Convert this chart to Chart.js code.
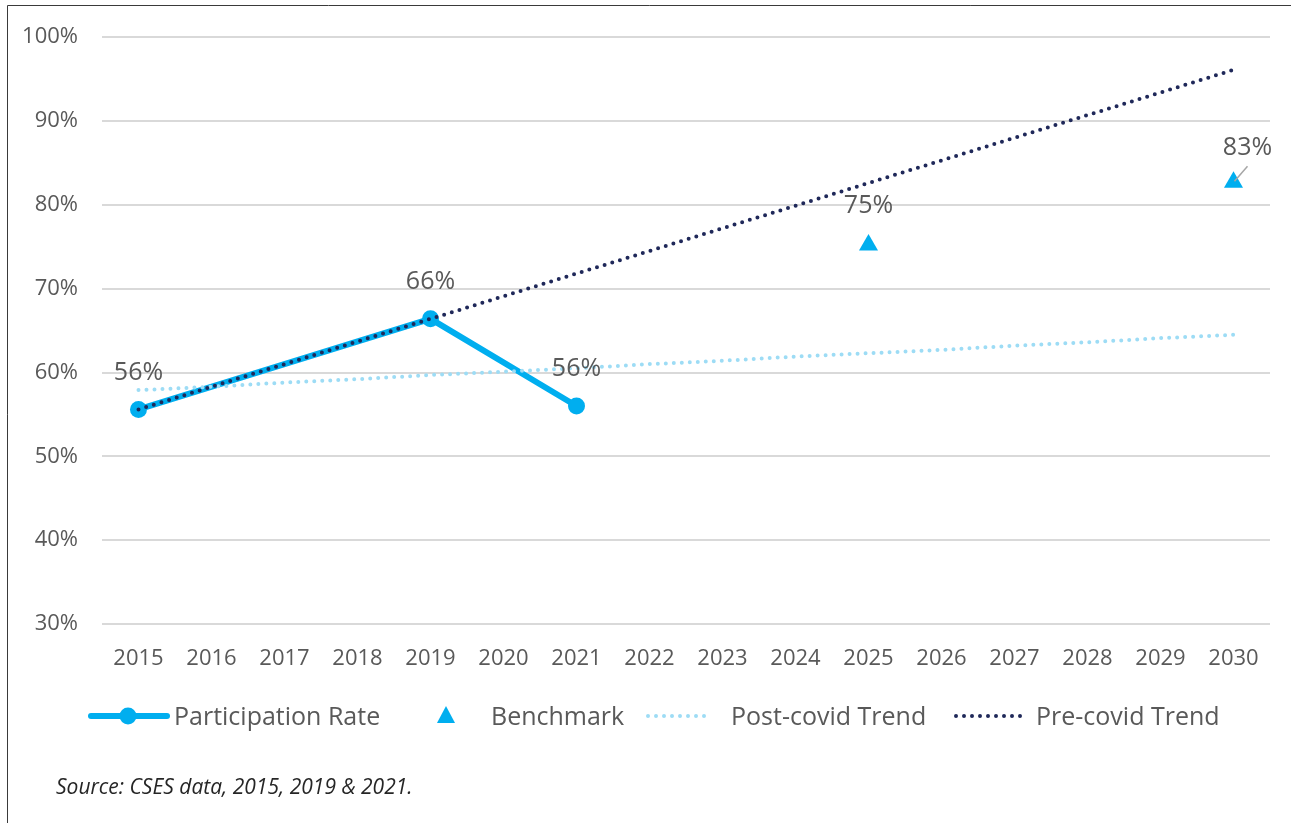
<!DOCTYPE html>
<html>
<head>
<meta charset="utf-8">
<script src="https://cdn.jsdelivr.net/npm/chart.js@4.4.1/dist/chart.umd.min.js"></script>
<style>
  html, body { margin: 0; padding: 0; background: #fff; }
  canvas { display: block; }
</style>
</head>
<body>
<canvas id="chart" width="1291" height="823"></canvas>
<script>
const years = ['2015', '2016', '2017', '2018', '2019', '2020', '2021', '2022',
               '2023', '2024', '2025', '2026', '2027', '2028', '2029', '2030'];
const participationRate = [55.6, null, null, null, 66.4, null, 56.0, null,
                           null, null, null, null, null, null, null, null];
const benchmark = [null, null, null, null, null, null, null, null,
                   null, null, 75.2, null, null, null, null, 82.7];
const postCovidTrend = [57.9, 58.3, 58.8, 59.2, 59.7, 60.1, 60.5, 61.0,
                        61.4, 61.9, 62.3, 62.7, 63.2, 63.6, 64.1, 64.5];
const preCovidTrend = [55.6, 58.3, 61.0, 63.7, 66.4, 69.1, 71.8, 74.5,
                       77.2, 79.9, 82.6, 85.3, 88.0, 90.7, 93.4, 96.1];
const yTicks = [30, 40, 50, 60, 70, 80, 90, 100];

const BLUE = '#00AEEF';
const LIGHT = '#9DDCF5';
const NAVY = '#1F2859';
const TEXT = '#595959';
const FONT = '"Open Sans", sans-serif';

// frame round the picture
const framePlugin = {
  id: 'frame',
  beforeDraw(chart) {
    const ctx = chart.ctx;
    ctx.save();
    ctx.fillStyle = '#fff';
    ctx.fillRect(0, 0, chart.width, chart.height);
    ctx.strokeStyle = '#3a3a3a';
    ctx.lineWidth = 1;
    ctx.beginPath();
    ctx.moveTo(7.5, chart.height);
    ctx.lineTo(7.5, 5.5);
    ctx.lineTo(chart.width, 5.5);
    ctx.stroke();
    ctx.restore();
  }
};

// value labels above the points
const labelPlugin = {
  id: 'pointLabels',
  afterDatasetsDraw(chart) {
    const ctx = chart.ctx;
    ctx.save();
    ctx.font = '25px ' + FONT;
    ctx.fillStyle = TEXT;
    ctx.textAlign = 'center';
    ctx.textBaseline = 'middle';
    [0, 1].forEach(di => {
      const data = chart.data.datasets[di].data;
      chart.getDatasetMeta(di).data.forEach((pt, i) => {
        if (data[i] == null) return;
        const txt = Math.round(data[i]) + '%';
        if (di === 1 && i === data.length - 1) {
          ctx.strokeStyle = '#a6a6a6';
          ctx.lineWidth = 1.5;
          ctx.beginPath();
          ctx.moveTo(pt.x + 14, pt.y - 16);
          ctx.lineTo(pt.x + 1, pt.y - 1);
          ctx.stroke();
          ctx.fillText(txt, pt.x + 14, pt.y - 34);
        } else {
          ctx.fillText(txt, pt.x, pt.y - (di === 1 ? 39 : 37));
        }
      });
    });
    ctx.restore();
  }
};

// legend row and source note
const legendPlugin = {
  id: 'customLegend',
  afterDraw(chart) {
    const ctx = chart.ctx;
    const y = 716;
    const ty = y + 2;
    ctx.save();
    ctx.font = '25px ' + FONT;
    ctx.fillStyle = TEXT;
    ctx.textAlign = 'left';
    ctx.textBaseline = 'middle';
    ctx.lineCap = 'round';

    // Participation Rate
    ctx.strokeStyle = BLUE;
    ctx.lineWidth = 6;
    ctx.beginPath();
    ctx.moveTo(91, y); ctx.lineTo(167, y);
    ctx.stroke();
    ctx.fillStyle = BLUE;
    ctx.beginPath();
    ctx.arc(128, y, 8.5, 0, Math.PI * 2);
    ctx.fill();
    ctx.fillStyle = TEXT;
    ctx.fillText('Participation Rate', 174, ty);

    // Benchmark
    ctx.fillStyle = BLUE;
    ctx.beginPath();
    ctx.moveTo(446, y - 10);
    ctx.lineTo(455, y + 7);
    ctx.lineTo(437, y + 7);
    ctx.closePath();
    ctx.fill();
    ctx.fillStyle = TEXT;
    ctx.fillText('Benchmark', 491, ty);

    // trends
    ctx.lineWidth = 4;
    ctx.setLineDash([0, 8]);
    ctx.strokeStyle = LIGHT;
    ctx.beginPath();
    ctx.moveTo(648, y); ctx.lineTo(712, y);
    ctx.stroke();
    ctx.fillText('Post-covid Trend', 731, ty);

    ctx.strokeStyle = NAVY;
    ctx.beginPath();
    ctx.moveTo(956, y); ctx.lineTo(1024, y);
    ctx.stroke();
    ctx.fillText('Pre-covid Trend', 1036, ty);
    ctx.setLineDash([]);

    ctx.font = 'italic 21px ' + FONT;
    ctx.fillStyle = '#262626';
    ctx.fillText('Source: CSES data, 2015, 2019 & 2021.', 56, 788);
    ctx.restore();
  }
};

new Chart(document.getElementById('chart'), {
  type: 'line',
  data: {
    labels: years,
    datasets: [
      {
        label: 'Participation Rate',
        data: participationRate,
        borderColor: BLUE,
        backgroundColor: BLUE,
        borderWidth: 6,
        pointRadius: 8.5,
        pointBorderWidth: 0,
        pointBackgroundColor: BLUE,
        spanGaps: true,
        order: 3
      },
      {
        label: 'Benchmark',
        data: benchmark,
        showLine: false,
        pointStyle: 'triangle',
        pointRadius: 11,
        pointBorderWidth: 0,
        pointBackgroundColor: BLUE,
        order: 2
      },
      {
        label: 'Post-covid Trend',
        data: postCovidTrend,
        borderColor: LIGHT,
        borderWidth: 4,
        borderDash: [0, 8],
        borderCapStyle: 'round',
        pointRadius: 0,
        order: 1
      },
      {
        label: 'Pre-covid Trend',
        data: preCovidTrend,
        borderColor: NAVY,
        borderWidth: 4,
        borderDash: [0, 8],
        borderCapStyle: 'round',
        pointRadius: 0,
        order: 0
      }
    ]
  },
  options: {
    responsive: false,
    animation: false,
    layout: { padding: { top: 36, right: 21, left: 0, bottom: 0 } },
    plugins: {
      legend: { display: false },
      tooltip: { enabled: false }
    },
    scales: {
      x: {
        offset: true,
        grid: { display: false, drawTicks: false, offset: true },
        border: { display: false },
        ticks: { color: TEXT, font: { size: 22, family: FONT }, padding: 22, maxRotation: 0 },
        afterFit(scale) { scale.height = 199; }
      },
      y: {
        min: 30,
        max: 100,
        afterBuildTicks(scale) { scale.ticks = yTicks.map(v => ({ value: v })); },
        ticks: { color: TEXT, font: { size: 22, family: FONT }, padding: 24, callback: v => v + '%' },
        grid: { color: '#d9d9d9', lineWidth: 2, drawTicks: false },
        border: { display: false },
        afterFit(scale) { scale.width = 102; }
      }
    }
  },
  plugins: [framePlugin, labelPlugin, legendPlugin]
});
</script>
</body>
</html>
